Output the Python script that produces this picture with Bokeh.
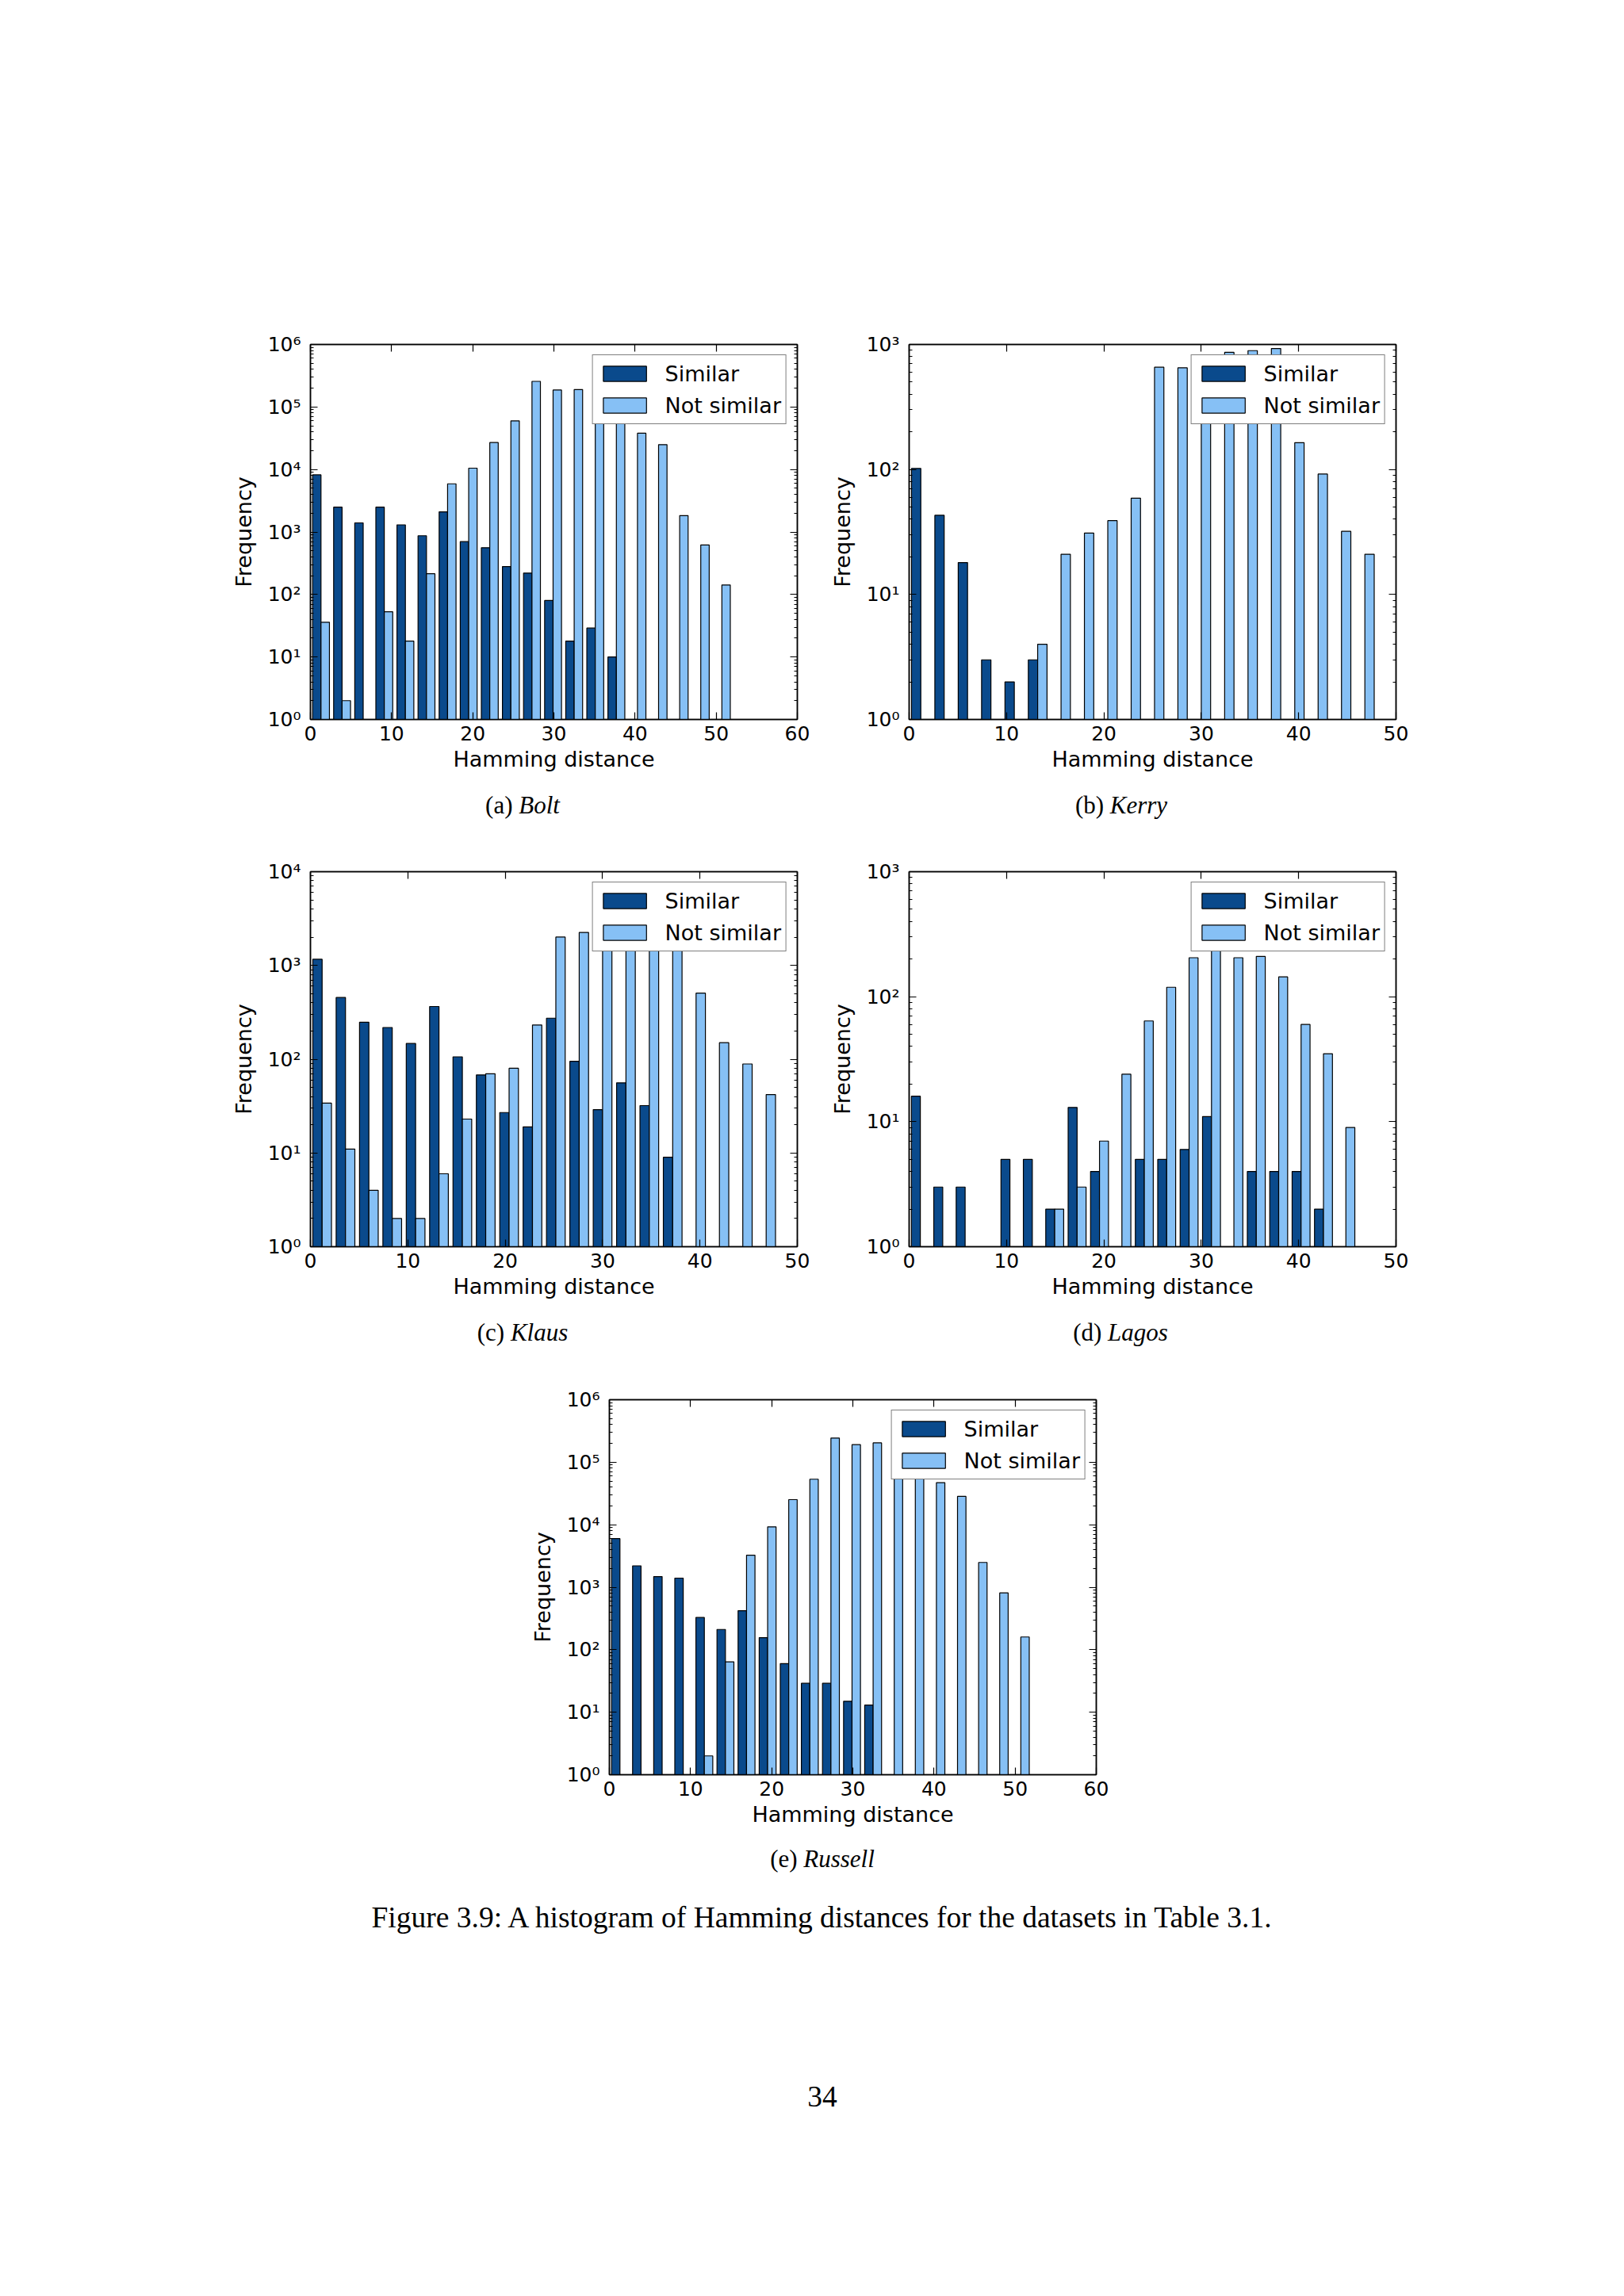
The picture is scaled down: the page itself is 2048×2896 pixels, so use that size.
import numpy as np
from bokeh.plotting import figure
from bokeh.models import (ColumnDataSource, FixedTicker, CustomJSTickFormatter, LogAxis,
                          LinearAxis, Range1d, Legend, LegendItem, Div, Spacer)
from bokeh.layouts import column, row
from bokeh.embed import file_html
from bokeh.resources import INLINE

# ---------------- data (counts per bin, 20 bins each) ----------------
bolt_similar = [8200, 2500, 1400, 2500, 1300, 870, 2100, 700, 560, 280,
                220, 80, 18, 29, 10, 0, 0, 0, 0, 0]
bolt_not_similar = [36, 2, 0, 53, 18, 215, 5900, 10500, 27000, 60000,
                    257000, 187000, 190000, 130000, 80000, 38000, 25000, 1830, 620, 142]

kerry_similar = [102, 43, 18, 3, 2, 3, 0, 0, 0, 0,
                 0, 0, 0, 0, 0, 0, 0, 0, 0, 0]
kerry_not_similar = [0, 0, 0, 0, 0, 4, 21, 31, 39, 59,
                     658, 651, 780, 865, 893, 928, 164, 92, 32, 21]

klaus_similar = [1165, 455, 248, 218, 147, 365, 106, 68, 27, 19,
                 274, 95, 29, 56, 32, 9, 0, 0, 0, 0]
klaus_not_similar = [34, 11, 4, 2, 2, 6, 23, 70, 80, 232,
                     2010, 2250, 2400, 2300, 2000, 1600, 507, 150, 89, 42]

lagos_similar = [16, 3, 3, 0, 5, 5, 2, 13, 4, 0,
                 5, 5, 6, 11, 0, 4, 4, 4, 2, 0]
lagos_not_similar = [0, 0, 0, 0, 0, 0, 2, 3, 7, 24,
                     64, 119, 205, 260, 205, 210, 144, 60, 35, 9]

russell_similar = [6000, 2200, 1480, 1400, 328, 211, 421, 156, 60, 29,
                   29, 15, 13, 0, 0, 0, 0, 0, 0, 0]
russell_not_similar = [0, 0, 0, 0, 2, 64, 3260, 9250, 25200, 53500,
                       244000, 191000, 204000, 130000, 75000, 47100, 28400, 2490, 811, 160]

# histogram bin range upper ends, x-axis ends, y decades
bin_range_max = {"bolt": 52, "kerry": 48, "klaus": 48, "lagos": 46, "russell": 52}
x_axis_max = {"bolt": 60, "kerry": 50, "klaus": 50, "lagos": 50, "russell": 60}
y_decades = {"bolt": 6, "kerry": 3, "klaus": 4, "lagos": 3, "russell": 6}

series_labels = ["Similar", "Not similar"]
x_label = "Hamming distance"
y_label = "Frequency"

DARK = "#0a4a8c"
LIGHT = "#86c0f5"

SUP_JS = r"""
const sup = {"0":"\u2070","1":"\u00b9","2":"\u00b2","3":"\u00b3","4":"\u2074",
             "5":"\u2075","6":"\u2076","7":"\u2077","8":"\u2078","9":"\u2079","-":"\u207b"};
const e = Math.round(Math.log10(tick));
return "10" + String(e).split("").map(c => sup[c]).join("");
"""

FW, FH = 614, 473
BL, BR, BT, BB = 120, 20, 30, 90


def style_axis(ax, minor=True):
    ax.axis_line_color = "black"
    ax.axis_line_width = 1.5
    ax.major_tick_in = 9
    ax.major_tick_out = 0
    ax.major_tick_line_color = "black"
    ax.major_tick_line_width = 1.2
    if minor:
        ax.minor_tick_in = 4
        ax.minor_tick_line_color = "black"
        ax.minor_tick_line_width = 1
    else:
        ax.minor_tick_in = 0
    ax.minor_tick_out = 0
    ax.major_label_text_font = "DejaVu Sans"
    ax.major_label_text_font_size = "25px"
    ax.major_label_text_color = "black"
    ax.axis_label_text_font = "DejaVu Sans"
    ax.axis_label_text_font_size = "27px"
    ax.axis_label_text_font_style = "normal"
    ax.axis_label_text_color = "black"


def make_hist(similar, not_similar, key):
    hi = bin_range_max[key]
    xmax = x_axis_max[key]
    ndec = y_decades[key]
    edges = np.linspace(0, hi, len(similar) + 1)
    w = edges[1] - edges[0]
    left = edges[:-1]
    s = np.array(similar, dtype=float)
    n = np.array(not_similar, dtype=float)
    ms, mn = s > 0, n > 0
    src_s = ColumnDataSource(dict(x=(left + 0.3 * w)[ms], top=s[ms]))
    src_n = ColumnDataSource(dict(x=(left + 0.7 * w)[mn], top=n[mn]))

    p = figure(width=BL + FW + BR, height=BT + FH + BB,
               x_range=Range1d(0, xmax), y_range=Range1d(1, 10 ** ndec),
               y_axis_type="log", output_backend="svg", toolbar_location=None,
               min_border_left=BL, min_border_right=BR, min_border_top=BT,
               min_border_bottom=BB, margin=0)
    p.background_fill_color = "white"
    p.border_fill_color = "white"
    p.outline_line_color = "black"
    p.outline_line_width = 1.5
    p.xgrid.visible = False
    p.ygrid.visible = False

    r1 = p.vbar(x="x", top="top", bottom=1, width=0.4 * w, source=src_s,
                fill_color=DARK, line_color="black", line_width=1.2)
    r2 = p.vbar(x="x", top="top", bottom=1, width=0.4 * w, source=src_n,
                fill_color=LIGHT, line_color="black", line_width=1.2)

    yt = [10 ** k for k in range(ndec + 1)]
    ym = [m * 10 ** k for k in range(ndec) for m in range(2, 10)]
    xt = list(range(0, xmax + 1, 10))

    p.yaxis.ticker = FixedTicker(ticks=yt, minor_ticks=ym)
    p.yaxis.formatter = CustomJSTickFormatter(code=SUP_JS)
    p.yaxis.axis_label = y_label
    p.yaxis.major_label_standoff = 12
    p.yaxis.axis_label_standoff = 12
    p.xaxis.ticker = FixedTicker(ticks=xt)
    p.xaxis.axis_label = x_label
    p.xaxis.major_label_standoff = 8
    p.xaxis.axis_label_standoff = 5
    style_axis(p.yaxis[0], minor=True)
    style_axis(p.xaxis[0], minor=False)

    ra = LogAxis(ticker=FixedTicker(ticks=yt, minor_ticks=ym),
                 formatter=CustomJSTickFormatter(code="return '';"))
    style_axis(ra, minor=True)
    ra.major_label_standoff = 0
    p.add_layout(ra, "right")
    ta = LinearAxis(ticker=FixedTicker(ticks=xt),
                    formatter=CustomJSTickFormatter(code="return '';"))
    style_axis(ta, minor=False)
    ta.major_label_standoff = 0
    p.add_layout(ta, "above")

    legend = Legend(items=[LegendItem(label=series_labels[0], renderers=[r1]),
                           LegendItem(label=series_labels[1], renderers=[r2])],
                    location="top_right", margin=13, padding=6, spacing=6,
                    glyph_width=68, glyph_height=24, label_height=34,
                    label_standoff=17,
                    label_text_font="DejaVu Sans", label_text_font_size="27px",
                    label_text_color="black",
                    border_line_color="black", border_line_width=1.5,
                    background_fill_color="white", background_fill_alpha=1.0)
    p.add_layout(legend)
    return p


pa = make_hist(bolt_similar, bolt_not_similar, "bolt")
pb = make_hist(kerry_similar, kerry_not_similar, "kerry")
pc = make_hist(klaus_similar, klaus_not_similar, "klaus")
pd = make_hist(lagos_similar, lagos_not_similar, "lagos")
pe = make_hist(russell_similar, russell_not_similar, "russell")

FIGH = BT + FH + BB
PAGEW = 2030


def sp(w, h):
    return Spacer(width=w, height=h, margin=0)


def caption_div(height, items):
    spans = []
    for x, y, size, html in items:
        spans.append(
            f'<span style="position:absolute;left:{x}px;top:{y}px;'
            f'transform:translate(-50%,-50%);font-size:{size}px;white-space:nowrap;'
            f'line-height:1;">{html}</span>')
    inner = (f'<div style="position:relative;width:{PAGEW}px;height:{height}px;'
             f'font-family:\'Liberation Serif\',\'Times New Roman\',serif;color:#000;">'
             + "".join(spans) + "</div>")
    return Div(text=inner, width=PAGEW, height=height, margin=0)


cap1 = caption_div(72, [(659, 18, 31, "(a) <i>Bolt</i>"),
                        (1414, 18, 31, "(b) <i>Kerry</i>")])
cap2 = caption_div(73, [(659, 18, 31, "(c) <i>Klaus</i>"),
                        (1413, 18, 31, "(d) <i>Lagos</i>")])
cap3 = caption_div(360, [(1037, 16, 31, "(e) <i>Russell</i>"),
                         (1036, 91, 37.5, "Figure 3.9: A histogram of Hamming distances for the datasets in Table 3.1."),
                         (1037, 317, 37.5, "34")])

layout = column(
    sp(10, 404),
    row(sp(271, FIGH), pa, sp(1, FIGH), pb, spacing=0, margin=0),
    cap1,
    row(sp(271, FIGH), pc, sp(1, FIGH), pd, spacing=0, margin=0),
    cap2,
    row(sp(648, FIGH), pe, spacing=0, margin=0),
    cap3,
    spacing=0, margin=0,
)

open("out.html", "w", encoding="utf-8").write(file_html(layout, INLINE, title="Hamming distance histograms"))
